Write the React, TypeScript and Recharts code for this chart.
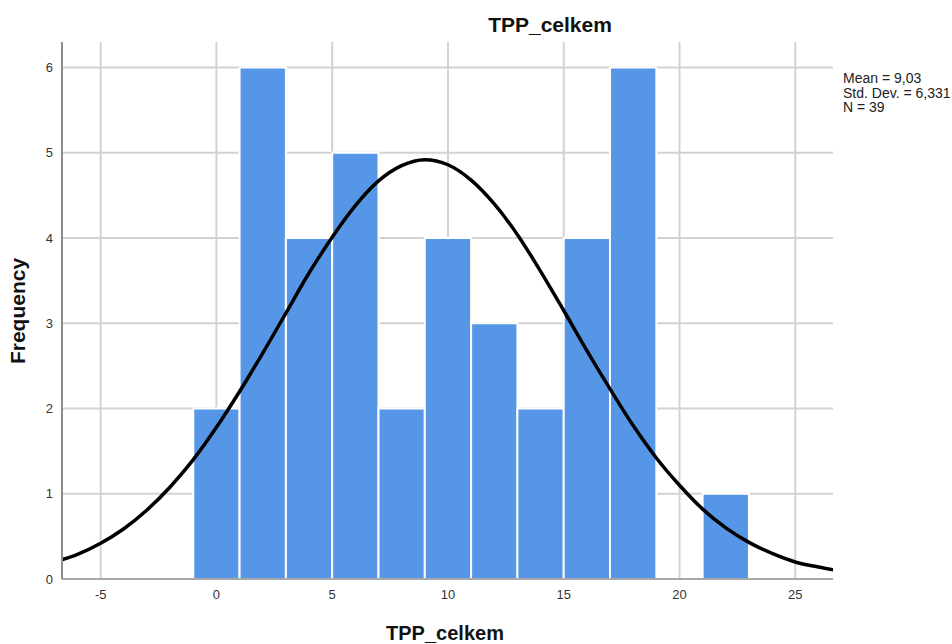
import {
  ComposedChart,
  Line,
  XAxis,
  YAxis,
  CartesianGrid,
  ReferenceArea,
} from "recharts";

// histogram bins (width 2) and counts
const binStarts = [-1, 1, 3, 5, 7, 9, 11, 13, 15, 17, 19, 21];
const binCounts = [2, 6, 4, 5, 2, 4, 3, 2, 4, 6, 0, 1];

// normal curve
const curveX = [
  -7, -6, -5, -4, -3, -2, -1, 0, 1, 2, 3, 4, 5, 6, 7, 8, 9, 10, 11, 12, 13,
  14, 15, 16, 17, 18, 19, 20, 21, 22, 23, 24, 25, 26, 27,
];
const curveY = [
  0.2, 0.29, 0.42, 0.59, 0.81, 1.08, 1.4, 1.78, 2.2, 2.65, 3.12, 3.59, 4.01,
  4.38, 4.67, 4.85, 4.92, 4.86, 4.68, 4.4, 4.04, 3.61, 3.15, 2.68, 2.23, 1.8,
  1.42, 1.1, 0.82, 0.6, 0.43, 0.3, 0.2, 0.14, 0.09,
];

const xTicks = [-5, 0, 5, 10, 15, 20, 25];
const yTicks = [0, 1, 2, 3, 4, 5, 6];

const statLines = ["Mean = 9,03", "Std. Dev. = 6,331", "N = 39"];

const font = '"Liberation Sans", Arial, sans-serif';

export default function App() {
  const chartData = curveX.map((x, i) => ({ x, y: curveY[i] }));

  return (
    <div style={{ position: "absolute", left: 0, top: 0, width: 952, height: 644 }}>
      <ComposedChart
        width={952}
        height={644}
        data={chartData}
        margin={{ top: 42, right: 119, bottom: 0, left: 0 }}
        style={{ fontFamily: font }}
      >
        <CartesianGrid stroke="#d2d2d2" strokeWidth={2} syncWithTicks />
        <XAxis
          dataKey="x"
          type="number"
          domain={[-6.67, 26.63]}
          ticks={xTicks}
          allowDataOverflow
          height={65}
          tickLine={false}
          tickSize={6}
          tickMargin={5}
          axisLine={{ stroke: "#a8a8a8", strokeWidth: 2 }}
          tick={{ fontSize: 13, fill: "#333" }}
        />
        <YAxis
          type="number"
          domain={[0, 6.3]}
          ticks={yTicks}
          allowDataOverflow
          width={62}
          tickLine={false}
          tickSize={6}
          tickMargin={3}
          axisLine={{ stroke: "#8c8c8c", strokeWidth: 2 }}
          tick={{ fontSize: 13, fill: "#333" }}
        />
        {binStarts.map((start, i) =>
          binCounts[i] > 0 ? (
            <ReferenceArea
              key={start}
              x1={start}
              x2={start + 2}
              y1={0}
              y2={binCounts[i]}
              fill="#5596e6"
              fillOpacity={1}
              stroke="#ffffff"
              strokeWidth={2}
            />
          ) : null
        )}
        <Line
          type="monotone"
          dataKey="y"
          stroke="#000"
          strokeWidth={3.5}
          dot={false}
          activeDot={false}
          isAnimationActive={false}
        />
      </ComposedChart>
      <svg
        width={952}
        height={644}
        style={{ position: "absolute", left: 0, top: 0, pointerEvents: "none", fontFamily: font }}
      >
        <text x={550} y={32} textAnchor="middle" fontSize={21} fontWeight="bold" fill="#111">
          TPP_celkem
        </text>
        <text x={445} y={640} textAnchor="middle" fontSize={20} fontWeight="bold" fill="#111">
          TPP_celkem
        </text>
        <text
          x={25}
          y={311}
          textAnchor="middle"
          fontSize={21}
          fontWeight="bold"
          fill="#111"
          transform="rotate(-90 25 311)"
        >
          Frequency
        </text>
        {statLines.map((s, i) => (
          <text key={s} x={843} y={83 + i * 14.5} fontSize={14} fill="#222">
            {s}
          </text>
        ))}
      </svg>
    </div>
  );
}
